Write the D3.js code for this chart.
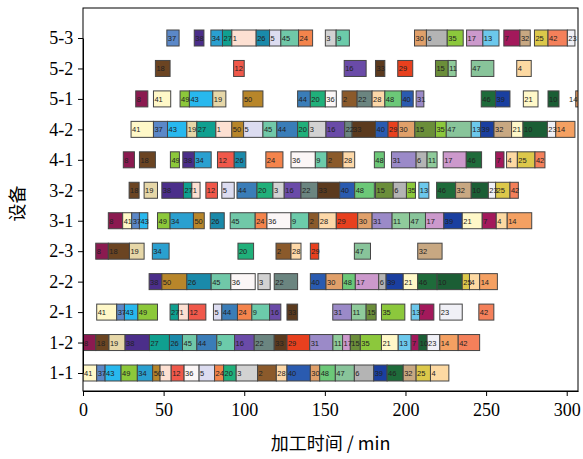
<!DOCTYPE html>
<html><head><meta charset="utf-8">
<script src="https://cdn.jsdelivr.net/npm/d3@7"></script>
<style>body{margin:0;background:#fff}svg{display:block}
.ax text{font-family:"Liberation Serif","Times New Roman","DejaVu Serif",serif !important;font-size:18px !important;}</style>
</head><body><div id="c"></div>
<script>
// Machines (bottom to top)
const machines = ["1-1","1-2","2-1","2-2","2-3","3-1","3-2","4-1","4-2","5-1","5-2","5-3"];
const xTicks = [0,50,100,150,200,250,300];
// [job, start, end] per machine
const m11 = [[41,0,8.5],[37,8.5,13.7],[43,13.7,23.6],[49,23.6,33.7],[34,33.7,43.2],[50,43.2,47.8],[1,47.8,54.7],[12,54.7,62.7],[36,62.7,72],[5,72,81.6],[24,81.6,87.2],[20,87.2,95],[3,95,108.3],[2,108.3,119.9],[28,119.9,126.5],[40,126.5,141],[30,141,146.8],[48,146.8,156.5],[47,156.5,168.3],[6,168.3,180.3],[39,180.3,188.6],[46,188.6,198.6],[32,198.6,206.6],[25,206.6,215.5],[4,215.5,226.9]];
const m12 = [[8,0,7.9],[18,7.9,16.1],[19,16.1,26.1],[38,26.1,41.2],[27,41.2,53.6],[26,53.6,61.7],[45,61.7,70.6],[44,70.6,83],[9,83,94],[16,94,106.2],[22,106.2,118.6],[33,118.6,126.5],[29,126.5,140.6],[31,140.6,155],[11,155,161],[17,161,165.8],[15,165.8,172],[35,172,185.1],[21,185.1,195.5],[13,195.5,203.5],[7,203.5,208.3],[10,208.3,213.4],[23,213.4,221.3],[14,221.3,232.7],[42,232.7,246]];
const m21 = [[41,8.5,20.9],[37,20.9,25.7],[43,25.7,34],[49,34,46.2],[27,54,59.2],[1,59.2,65.4],[12,65.4,76.2],[5,80.9,86.1],[44,86.1,95.8],[24,95.8,104.7],[9,104.7,115.7],[16,115.7,122.7],[33,126.5,133.1],[31,154.9,166.5],[11,166.5,175.6],[15,175.6,181.8],[35,185.1,199.6],[13,203.5,208.7],[7,208.7,217.6],[23,221.3,235.2],[42,245.5,254.8]];
const m22 = [[38,41,48.9],[50,48.9,64.4],[26,64.4,79.5],[45,79.5,91.7],[36,91.7,106.8],[3,108.5,116.1],[22,118.6,133.1],[40,141,150.7],[30,150.7,161],[48,161,168.9],[17,168.9,183.4],[6,183.4,188],[39,188,198.6],[21,198.6,207.6],[46,207.6,219.6],[10,219.6,235.2],[25,235.2,239.7],[4,239.7,246],[14,246,257]];
const m23 = [[8,7.9,15.7],[18,15.7,28.8],[19,28.8,37.9],[34,43,53.4],[20,96.1,105.8],[2,119.7,129],[28,129,135.2],[29,141,146.2],[47,168.3,178.3],[32,207.6,222.7]];
const m31 = [[8,15.7,24.6],[41,24.6,30.2],[37,30.2,35],[43,35,40.2],[49,46.2,54],[34,54,68.5],[50,68.5,75.2],[26,78.9,87.6],[45,91.3,106.8],[24,106.8,114.1],[36,114.1,129],[9,129,140],[2,140,146.2],[28,146.2,157.1],[29,157.1,170.4],[30,170.4,179.3],[31,179.3,191.7],[11,191.7,202.5],[47,202.5,212.4],[17,212.4,223.8],[39,223.8,235.2],[21,235.2,247.6],[7,247.6,256.3],[4,256.3,263.1],[14,263.1,278.3]];
const m32 = [[18,28.6,34.8],[19,37.9,46.2],[38,48.9,62.3],[27,62.3,67.5],[1,67.5,72.6],[12,76.2,83.4],[5,86.1,93.8],[44,95.5,107.9],[20,107.9,117.8],[3,117.8,124.8],[16,124.8,135.2],[22,135.2,145.5],[33,145.5,159.2],[40,159.2,168.5],[48,168.5,180.7],[15,181.4,192.4],[6,192.4,200.6],[35,200.6,206.2],[13,208.3,214.5],[46,219.3,231.1],[32,231.1,240.8],[10,240.8,251.4],[23,251.4,255.9],[25,255.9,264.8],[42,264.8,270]];
const m41 = [[8,25,31.9],[18,35,44.9],[49,54.2,59.8],[38,61.9,69.1],[34,69.1,79.5],[12,83.4,93.8],[26,93.8,101],[24,113.4,124],[36,129,144.1],[9,144.1,151.3],[2,151.3,161.2],[28,161.2,168.5],[48,180.7,186.9],[31,191.3,206.6],[6,206.6,213.4],[11,213.4,219.6],[17,223.4,237.7],[46,237.7,247.2],[7,255.9,261.1],[4,262.7,269.4],[25,269.4,280.3],[42,280.3,286.5]];
const m42 = [[41,29.8,43.7],[37,43.7,52.4],[43,52.4,64.4],[19,64.4,70.6],[27,70.6,82.4],[1,82.4,92.3],[50,92.3,99.6],[5,99.6,111.6],[45,111.6,120.2],[44,120.2,133.1],[20,133.1,140],[3,140,150.7],[16,150.7,162.3],[22,162.3,166.9],[33,166.9,181.4],[40,181.4,189.2],[29,189.2,195.5],[30,195.5,205.8],[15,205.8,218.6],[35,218.6,225.3],[47,225.3,240.8],[13,240.8,246.6],[39,246.6,254.9],[32,254.9,265.8],[21,265.8,272.9],[10,272.9,288],[23,288,293.2],[14,293.2,305.1]];
const m51 = [[8,32.7,40.2],[41,43.7,54.4],[49,60.2,66],[43,66,80.5],[19,80.5,88.6],[50,99.2,111.6],[44,133.1,141],[20,141,150.3],[36,150.3,157.1],[2,160.7,170],[22,170,179.3],[28,179.3,187.2],[48,187.2,197.5],[40,197.5,204.8],[31,206.6,211.4],[46,247,255.9],[39,255.9,264.8],[21,273.1,282.2],[10,288.4,295.2],[14,305.6,314]];
const m52 = [[18,44.9,54],[12,93.4,100],[16,162,175.6],[33,181.4,187.2],[29,195.2,204.5],[15,218.6,226.5],[11,226.5,231.4],[47,240.8,254.8],[4,269,278]];
const m53 = [[37,52,59.6],[38,69,75],[34,79.3,86.5],[27,86.5,92.3],[1,92.3,107.4],[26,107.4,115.7],[5,115.7,122.7],[45,122.7,133.7],[24,133.7,142.4],[3,150.3,157],[9,157,165.2],[30,205.6,213],[6,213,225.9],[35,225.9,235.8],[17,237.9,248],[13,248,258],[7,261,271],[32,271,277.4],[25,280,288.4],[42,288.4,300.4],[23,300.4,305.1]];
const schedule = {"1-1":m11,"1-2":m12,"2-1":m21,"2-2":m22,"2-3":m23,"3-1":m31,"3-2":m32,"4-1":m41,"4-2":m42,"5-1":m51,"5-2":m52,"5-3":m53};
// job colours, index = job number
const jobColors = [null,
 "#fde0d2","#8b5a2b","#d2d2d2","#fdd9a2","#dcdcf0","#b4b4b4","#a3195b","#8b1a50","#6ccbaa","#1b5e35",
 "#8fcb9b","#f0584a","#6cc8ec","#f4a062","#6b8e3a","#6a4ba8","#cc99cc","#6b4422","#e6d7a8","#20b07a",
 "#fff8c8","#6b8580","#f0f0f6","#f4844c","#dcc84a","#1a8aaa","#10a090","#fdd8a8","#e8401e","#e0a06a",
 "#9b8ac8","#c8a882","#5b3a1e","#2aa0d0","#8cc83c","#fbf6f6","#5b88c8","#4b2e8a","#1a3fa0","#2a5bb0",
 "#fff8c8","#f4805a","#28b8ee","#3a7db8","#70c8a8","#1e6b3a","#88c49a","#6cc878","#8cc83a","#b8862a"];

const W=583,H=459, L=83, R=578, T=8, B=391;
const svg=d3.select("#c").append("svg").attr("width",W).attr("height",H);
const x=d3.scaleLinear().domain([0,307]).range([L,R]);
const y=d3.scalePoint().domain(machines).range([373,38]);
const bh=16;

svg.append("defs").append("clipPath").attr("id","clip").append("rect")
  .attr("x",L).attr("y",T).attr("width",R-L).attr("height",B-T);

const g=svg.append("g").attr("clip-path","url(#clip)");
const gt=svg.append("g");
machines.forEach(m=>{
  g.append("g").selectAll("rect").data(schedule[m]).join("rect")
    .attr("x",d=>x(d[1])).attr("y",y(m)-bh/2)
    .attr("width",d=>x(d[2])-x(d[1])).attr("height",bh)
    .attr("fill",d=>jobColors[d[0]]).attr("stroke","#444").attr("stroke-width",1);
  gt.append("g").selectAll("text").data(schedule[m]).join("text")
    .attr("x",d=>Math.min(x(d[1])+1,R-9)).attr("y",y(m)+3)
    .attr("font-family","Liberation Sans").attr("font-size",7.5)
    .attr("fill","#222").text(d=>d[0]);
});

// frame
svg.append("rect").attr("x",L).attr("y",T).attr("width",R-L).attr("height",B-T)
  .attr("fill","none").attr("stroke","#000").attr("stroke-width",1);

const xa=svg.append("g").attr("class","ax").attr("transform",`translate(0,${B})`)
  .call(d3.axisBottom(x).tickValues(xTicks).tickSize(5).tickSizeOuter(0));
const ya=svg.append("g").attr("class","ax").attr("transform",`translate(${L},0)`)
  .call(d3.axisLeft(y).tickSize(5).tickSizeOuter(0));
[xa,ya].forEach(a=>{a.attr("font-family",null).attr("font-size",null);
  a.select(".domain").attr("stroke","#000");
  a.selectAll("text").attr("fill","#000");});
xa.selectAll("text").attr("dy","0.95em");
ya.selectAll("text").attr("dx","-0.1em");

svg.append("text").attr("x",(L+R)/2).attr("y",450).attr("text-anchor","middle")
  .attr("font-family","Noto Sans CJK SC").attr("font-size",18).attr("fill","#000")
  .text("加工时间 / min");
svg.append("text").attr("transform",`translate(24,${(T+B)/2+4}) rotate(-90)`)
  .attr("text-anchor","middle").attr("font-family","Noto Sans CJK SC")
  .attr("font-size",18).attr("fill","#000").text("设备");
</script></body></html>
